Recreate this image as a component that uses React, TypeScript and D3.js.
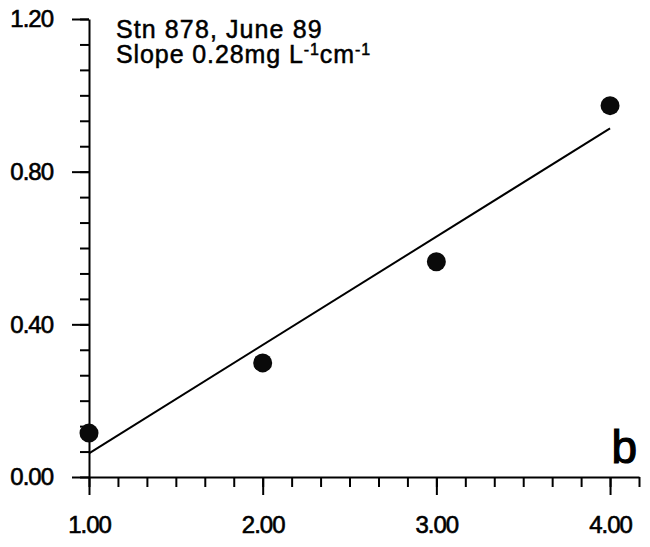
import React, { useEffect, useRef } from "react";
import * as d3 from "d3";

// concentration vs depth, station 878
const xValues = [1, 2, 3, 4];
const yValues = [0.115, 0.299, 0.564, 0.973];

const xMajorTicks = [1, 2, 3, 4];
const yMajorTicks = [0, 0.4, 0.8, 1.2];
const xMinorStep = 1 / 6;
const yMinorStep = 0.4 / 6;

const stationLabel = "Stn 878, June 89";
const slopeLabel = "Slope 0.28mg L";
const panelLetter = "b";

const W = 650;
const H = 547;
const FONT = "'Liberation Sans', Arial, sans-serif";

const fitLine = (xs: number[], ys: number[]) => {
  const mx = d3.mean(xs) as number;
  const my = d3.mean(ys) as number;
  const sxy = d3.sum(xs, (x, i) => (x - mx) * (ys[i] - my));
  const sxx = d3.sum(xs, (x) => (x - mx) ** 2);
  const slope = sxy / sxx;
  return { slope, intercept: my - slope * mx };
};

const App = () => {
  const ref = useRef<SVGGElement>(null);

  const x = d3.scaleLinear().domain([1, 4 + xMinorStep]).range([89, 639]);
  const y = d3.scaleLinear().domain([0, 1.2]).range([477, 19]);

  const xMinor = d3.range(1, 4 + xMinorStep + 1e-6, xMinorStep);
  const yMinor = d3.range(0, 1.2 + 1e-6, yMinorStep);

  const fit = fitLine(xValues, yValues);
  const lineData: [number, number][] = [1, 4].map((v) => [v, fit.intercept + fit.slope * v]);
  const line = d3
    .line<[number, number]>()
    .x((d) => x(d[0]))
    .y((d) => y(d[1]));

  useEffect(() => {
    const g = d3.select(ref.current);
    g.selectAll("*").remove();
    const fmt = d3.format(".2f");

    // minor ticks first
    g.append("g")
      .attr("transform", `translate(${x(1)},0)`)
      .call(d3.axisLeft(y).tickValues(yMinor).tickSize(9).tickFormat(() => "").tickSizeOuter(0))
      .call((s) => s.select(".domain").remove());
    g.append("g")
      .attr("transform", `translate(0,${y(0)})`)
      .call(d3.axisBottom(x).tickValues(xMinor).tickSize(10).tickFormat(() => "").tickSizeOuter(0))
      .call((s) => s.select(".domain").remove());

    const yAxis = g
      .append("g")
      .attr("transform", `translate(${x(1)},0)`)
      .call(d3.axisLeft(y).tickValues(yMajorTicks).tickSize(17).tickPadding(19).tickSizeOuter(0).tickFormat((d) => fmt(d as number)));
    const xAxis = g
      .append("g")
      .attr("transform", `translate(0,${y(0)})`)
      .call(d3.axisBottom(x).tickValues(xMajorTicks).tickSize(18).tickPadding(21).tickSizeOuter(0).tickFormat((d) => fmt(d as number)));

    [yAxis, xAxis].forEach((a) => {
      a.selectAll("text")
        .attr("font-family", FONT)
        .attr("font-size", 24)
        .attr("letter-spacing", -1)
        .attr("fill", "#000")
        .attr("stroke", "#000")
        .attr("stroke-width", 0.6);
    });

    g.selectAll(".domain").attr("stroke", "#000").attr("stroke-width", 2);
    g.selectAll(".tick line").attr("stroke", "#000").attr("stroke-width", 2);
  }, []);

  return (
    <svg
      width={W}
      height={H}
      style={{ position: "absolute", left: 0, top: 0, background: "#fff" }}
    >
      <g ref={ref} />
      <path d={line(lineData) || ""} fill="none" stroke="#000" strokeWidth={2} />
      {xValues.map((v, i) => (
        <circle key={i} cx={x(v)} cy={y(yValues[i])} r={9.5} fill="#0a0a0a" />
      ))}
      <g fontFamily={FONT} fill="#000" stroke="#000" strokeWidth={0.5}>
        <text x={116} y={38} fontSize={25} letterSpacing={1.1}>
          {stationLabel}
        </text>
        <text x={116} y={63} fontSize={25} letterSpacing={0.9}>
          {slopeLabel}
          <tspan fontSize={16} dy={-8}>-1</tspan>
          <tspan dy={8}>cm</tspan>
          <tspan fontSize={16} dy={-8}>-1</tspan>
        </text>
        <text x={637} y={463} fontSize={46} textAnchor="end" strokeWidth={1.2}>
          {panelLetter}
        </text>
      </g>
    </svg>
  );
};

export default App;
